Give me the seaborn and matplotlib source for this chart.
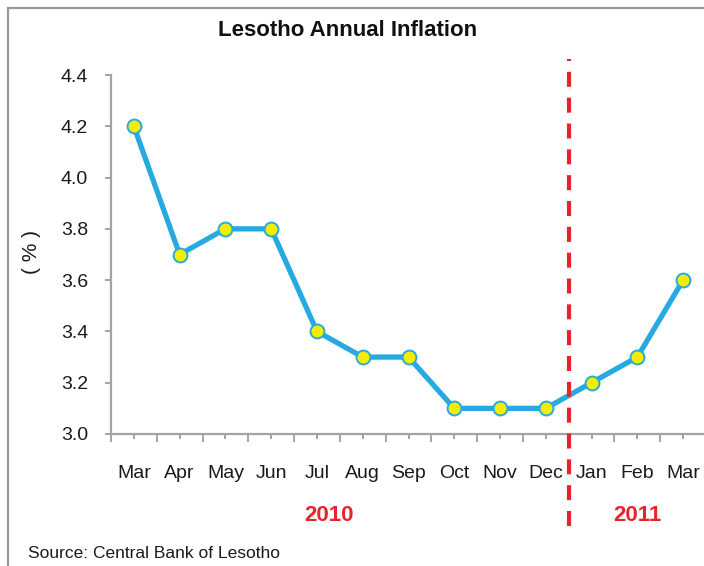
import matplotlib
matplotlib.use("Agg")
import matplotlib.pyplot as plt
import matplotlib.patches as mpatches
import seaborn as sns

# Monthly annual inflation (%), March 2010 - March 2011
months_2010 = ["Mar", "Apr", "May", "Jun", "Jul", "Aug", "Sep", "Oct", "Nov", "Dec"]
months_2011 = ["Jan", "Feb", "Mar"]
inflation = [4.2, 3.7, 3.8, 3.8, 3.4, 3.3, 3.3, 3.1, 3.1, 3.1, 3.2, 3.3, 3.6]
year_labels = ["2010", "2011"]
y_ticks = [3.0, 3.2, 3.4, 3.6, 3.8, 4.0, 4.2, 4.4]

month_labels = months_2010 + months_2011
positions = list(range(len(month_labels)))

sns.set_style("white")
plt.rcParams["font.family"] = ["Liberation Sans", "DejaVu Sans"]

BLUE = "#27a9e1"
YELLOW = "#f3ee00"
RED = "#e8242a"
GREY = "#a3a3a3"
TEXT = "#1a1a1a"

fig = plt.figure(figsize=(7.04, 5.66), dpi=100)
fig.patch.set_facecolor("white")

# outer frame (left and top edges visible)
fig.add_artist(mpatches.Rectangle((8 / 704, -0.05), 1.1, 1 - 8 / 566 + 0.05,
                                  transform=fig.transFigure, fill=False,
                                  edgecolor="#9a9a9a", linewidth=1.6))

ax = fig.add_axes([111 / 704, 1 - 434 / 566, 595 / 704, 359 / 566])
ax.set_facecolor("white")

sns.lineplot(x=positions, y=inflation, ax=ax, color=BLUE, linewidth=3.8,
             marker="o", markersize=10, markerfacecolor=YELLOW,
             markeredgecolor=BLUE, markeredgewidth=1.4, zorder=3)

ax.set_xlim(-0.5, len(month_labels) - 0.5)
ax.set_ylim(y_ticks[0], y_ticks[-1])

# spines
for side in ("top", "right"):
    ax.spines[side].set_visible(False)
for side in ("left", "bottom"):
    ax.spines[side].set_color(GREY)
    ax.spines[side].set_linewidth(1.6)

# y axis
ax.set_yticks(y_ticks)
ax.set_yticklabels([f"{v:.1f}" for v in y_ticks])
ax.tick_params(axis="y", direction="out", length=4.5, width=1.4, color=GREY,
               pad=12, labelsize=14, labelcolor=TEXT, left=True)
ax.set_ylabel("( % )", fontsize=15, color=TEXT)
ax.yaxis.set_label_coords(-(111 - 31) / 595, (434 - 252) / 359)
ax.yaxis.label.set_va("center")

# x axis: short ticks at months, longer ticks at boundaries
ax.set_xticks(positions)
ax.set_xticklabels(month_labels)
ax.set_xticks([p - 0.5 for p in positions] + [len(positions) - 0.5], minor=True)
ax.tick_params(axis="x", which="major", direction="out", length=3.5, width=1.4,
               color=GREY, pad=19, labelsize=14, labelcolor=TEXT, bottom=True)
ax.tick_params(axis="x", which="minor", direction="out", length=5.5, width=1.4,
               color=GREY, bottom=True)

# year divider
split = len(months_2010) - 0.5
ax.axvline(split, ymin=-0.255, ymax=1.045, color=RED, linewidth=3,
           dashes=(3.6, 2.6), clip_on=False, zorder=4)

# year captions
ax.text(4.27, -0.226, year_labels[0], transform=ax.get_xaxis_transform(),
        ha="center", va="center", fontsize=16, fontweight="bold", color=RED)
ax.text(len(months_2010) + 1, -0.226, year_labels[1],
        transform=ax.get_xaxis_transform(),
        ha="center", va="center", fontsize=16, fontweight="bold", color=RED)

# title and source
fig.text(348 / 704, 1 - 31 / 566, "Lesotho Annual Inflation", ha="center",
         va="center", fontsize=16, fontweight="bold", color="#111111")
fig.text(28 / 704, 1 - 554 / 566, "Source: Central Bank of Lesotho", ha="left",
         va="center", fontsize=12.5, color=TEXT)

fig.savefig("out.png", dpi=100, facecolor="white")
